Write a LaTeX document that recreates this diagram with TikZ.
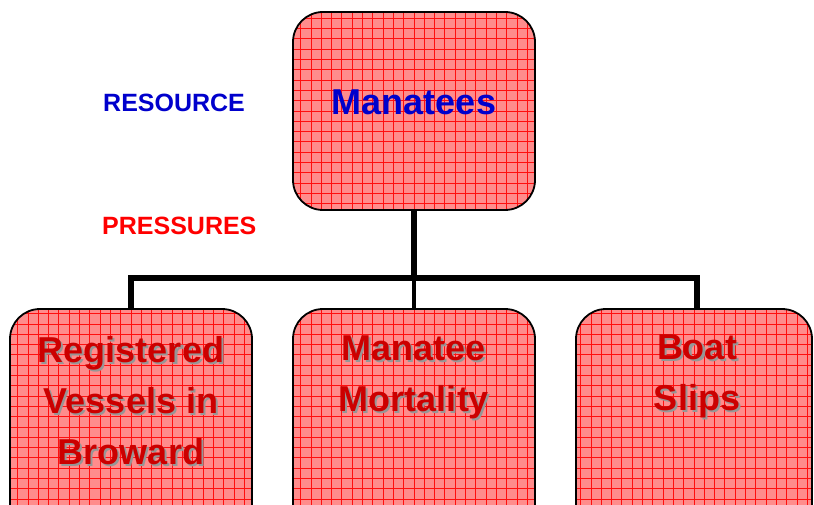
\documentclass[tikz,border=0pt]{standalone}
\usepackage{fontspec}
\setmainfont{Liberation Sans}
\definecolor{boxfill}{RGB}{255,140,140}
\definecolor{gridred}{RGB}{255,15,15}
\definecolor{lblred}{RGB}{204,0,0}
\definecolor{shgray}{RGB}{150,150,150}
\definecolor{resblue}{RGB}{0,0,204}
\newcommand\ShWord[1]{\rlap{\kern2pt\raisebox{-2pt}{\textcolor{shgray}{#1}}}#1}
\begin{document}
\begin{tikzpicture}[x=1pt,y=-1pt,
  gridbox/.style={draw=black, line width=1.8pt, rounded corners=30pt, inner sep=0pt,
    path picture={
      \fill[boxfill] (-135,-135) rectangle (135,135);
      \foreach \k in {-13,...,13} {\draw[gridred, line width=0.9pt] (\k*10.3,-135) -- (\k*10.3,135);}
      \foreach \k in {-13,...,13} {\draw[gridred, line width=0.9pt] (-135,\k*10.3) -- (135,\k*10.3);}
    }},
  lbl/.style={font=\fontsize{36}{51}\selectfont\bfseries, text=lblred, align=center, inner sep=0pt, anchor=north},
  side/.style={font=\fontsize{25}{30}\selectfont\bfseries, inner sep=0pt, anchor=base west}
]
\clip (0,0) rectangle (814,505);

\coordinate (j) at (414,278);
\node[gridbox, minimum width=242pt, minimum height=198pt] (top) at (414,111) {};
\node[gridbox, minimum width=242pt, minimum height=236pt] (b1) at (131,427) {};
\node[gridbox, minimum width=242pt, minimum height=236pt] (b2) at (414,427) {};
\node[gridbox, minimum width=236pt, minimum height=236pt] (b3) at (694,427) {};

% connectors
\draw[line width=6pt] (top.south) -- (j);
\draw[line width=4pt] (j) -- (b2.north);
\draw[line width=6pt] (b1.north -| 131,0) -- (131,278) -- (697,278) -- (697,309);

% labels
\node[font=\fontsize{36}{40}\selectfont\bfseries, text=resblue, inner sep=0pt, anchor=base] (tm) at (414,115) {Manatees};

\node[lbl] (t1) at (131,336) {\ShWord{Registered}\\\ShWord{Vessels in}\\\ShWord{Broward}};
\node[lbl] (t2) at (414,336) {\ShWord{Manatee}\\\ShWord{Mortality}};
\node[lbl] (t3) at (697,335) {\ShWord{Boat}\\\ShWord{Slips}};

\node[side, text=resblue] (res) at (103,112) {RESOURCE};
\node[side, text=red] (pre) at (102,235) {PRESSURES};
\end{tikzpicture}
\end{document}
